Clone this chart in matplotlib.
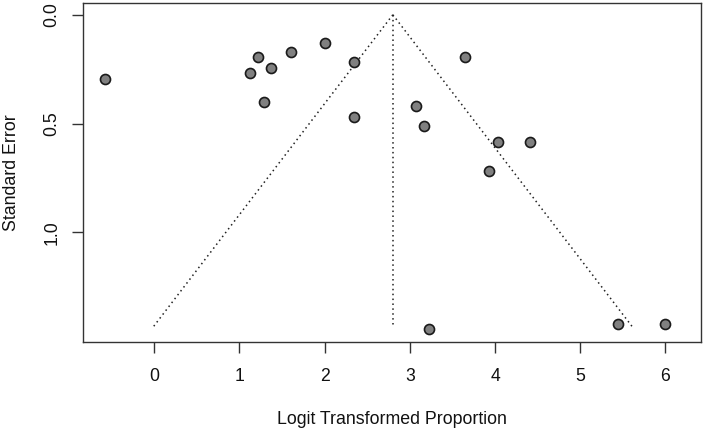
import matplotlib
matplotlib.use("Agg")
import matplotlib.pyplot as plt
import numpy as np

plt.rcParams['font.family'] = ['Liberation Sans', 'DejaVu Sans']

# study estimates (logit proportion) and their standard errors
logit_prop = [-0.575, 1.12, 1.221, 1.373, 1.608, 2.00, 2.340, 1.288, 2.344,
              3.650, 3.075, 3.166, 4.040, 4.406, 3.925, 3.220, 5.446, 6.00]
std_err = [0.297, 0.266, 0.196, 0.246, 0.173, 0.129, 0.216, 0.401, 0.470,
           0.193, 0.420, 0.511, 0.585, 0.583, 0.717, 1.444, 1.420, 1.420]

pooled = 2.80
se_max = 1.444
x_ticks = [0, 1, 2, 3, 4, 5, 6]
y_ticks = [0.0, 0.5, 1.0]
y_labels = ["0.0", "0.5", "1.0"]

fig = plt.figure(figsize=(7.04, 4.30), dpi=100)
ax = fig.add_axes([0.1179, 0.2053, 0.8778, 0.7877])

# funnel
se_line = np.array([0.0, se_max])
ax.plot(pooled - 1.96 * se_line, se_line, color='#222222', lw=1.1, ls=(0, (1, 2.2)))
ax.plot(pooled + 1.96 * se_line, se_line, color='#222222', lw=1.1, ls=(0, (1, 2.2)))
ax.plot([pooled, pooled], [0.0, 1.434], color='#222222', lw=1.1, ls=(0, (1, 2.2)))

ax.scatter(logit_prop, std_err, s=52, facecolor='#808080', edgecolor='#1a1a1a',
           linewidth=1.2, zorder=3)

ax.set_xlim(-0.837, 6.417)
ax.set_ylim(1.503, -0.054)

ax.set_xticks(x_ticks)
ax.set_yticks(y_ticks)
ax.set_yticklabels(y_labels, rotation=90, va='center')
ax.tick_params(axis='both', length=7.7, width=1.0, color='#333333',
               labelsize=12.7, labelcolor='#111111')
ax.tick_params(axis='x', pad=11.2)
ax.tick_params(axis='y', pad=8.5)

for sp in ax.spines.values():
    sp.set_color('#333333')
    sp.set_linewidth(1.0)

ax.set_xlabel("Logit Transformed Proportion", fontsize=12.8, labelpad=19, color='#111111')
ax.set_ylabel("Standard Error", fontsize=12.8, labelpad=17, color='#111111')

fig.savefig("out.png", dpi=100)
